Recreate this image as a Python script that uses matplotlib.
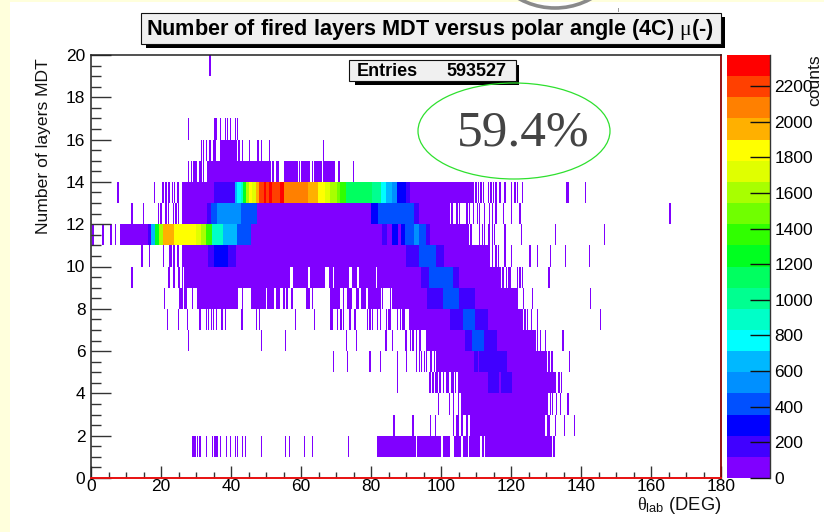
import numpy as np
import matplotlib
matplotlib.use('Agg')
import matplotlib.pyplot as plt
from matplotlib.colors import ListedColormap, BoundaryNorm
from matplotlib.patches import Rectangle, Ellipse, Circle
from matplotlib.ticker import MultipleLocator

plt.rcParams['font.family'] = ['Liberation Sans', 'DejaVu Sans']
plt.rcParams['mathtext.fontset'] = 'custom'
plt.rcParams['mathtext.rm'] = 'Liberation Sans'
plt.rcParams['mathtext.it'] = 'Liberation Serif'
plt.rcParams['mathtext.bf'] = 'Liberation Sans:bold'

# palette bands of the z axis, bottom to top
band_colors = ['#8000ff', '#4000ff', '#0000ff', '#0050ff', '#0090ff', '#00b8ff', '#00ffff',
               '#00ffc8', '#00ff90', '#00ff60', '#00ff20', '#30ff00', '#70ff00', '#a8ff00',
               '#e0ff00', '#ffff00', '#ffb000', '#ff8000', '#ff4000', '#ff0000']
z_max = 2374
z_ticks = [0, 200, 400, 600, 800, 1000, 1200, 1400, 1600, 1800, 2000, 2200]

# solid runs per row: (theta from, theta to, counts)
row01_runs = [(81.4, 88.6, 60), (88.9, 92.6, 60), (93.0, 99.8, 60), (100.2, 102.4, 60), (103.6, 105.6, 60),
              (106.0, 107.6, 60), (108.0, 111.0, 60), (111.4, 112.0, 60), (112.4, 131.1, 60)]
row02_runs = [(108.3, 129.4, 60)]
row03_runs = [(105.6, 129.7, 60)]
row04_runs = [(104.7, 113.2, 60), (113.2, 116.4, 200), (116.4, 116.9, 100), (116.9, 120.2, 200), (120.2, 132.3, 60)]
row05_runs = [(98.6, 109.4, 60), (109.4, 110.2, 200), (110.2, 110.7, 60), (110.7, 118.8, 200), (118.8, 129.7, 60)]
row06_runs = [(95.7, 106.9, 60), (106.9, 108.5, 200), (108.5, 110.7, 420), (110.7, 112.0, 380),
              (112.0, 115.9, 200), (115.9, 126.4, 60)]
row07_runs = [(90.7, 102.6, 60), (102.6, 105.9, 200), (105.9, 109.7, 400), (109.7, 113.2, 200),
              (113.2, 122.6, 60)]
row08_runs = [(25.2, 26.2, 60), (26.6, 27.3, 60), (30.2, 41.6, 60), (45.6, 50.0, 60), (50.4, 51.9, 60),
              (52.6, 54.0, 60), (54.5, 55.4, 60), (61.4, 62.6, 60), (68.3, 71.0, 60), (73.0, 74.5, 60),
              (75.4, 76.4, 60), (76.9, 78.3, 60), (79.2, 82.6, 60), (85.9, 88.8, 60), (88.8, 96.0, 60),
              (96.0, 100.2, 200), (100.2, 105.0, 400), (105.0, 106.9, 200), (106.9, 109.7, 200),
              (109.7, 121.1, 60)]
row09_runs = [(26.6, 56.7, 60), (57.3, 61.6, 60), (62.6, 66.9, 60), (67.8, 68.8, 60), (69.3, 73.5, 60),
              (74.5, 75.9, 60), (76.4, 81.1, 60), (81.6, 94.0, 60), (94.0, 96.4, 200), (96.4, 103.0, 400),
              (103.0, 105.0, 200), (105.0, 116.4, 60)]
row10_runs = [(25.7, 33.2, 60), (33.2, 35.0, 200), (35.0, 39.2, 300), (39.2, 41.1, 200), (41.1, 89.7, 60),
              (89.7, 93.5, 200), (93.5, 98.3, 400), (98.3, 100.7, 200), (100.7, 113.5, 60)]
row11_runs = [(8.1, 15.9, 60), (15.9, 17.0, 200), (17.0, 18.3, 650), (18.3, 19.2, 1300), (19.2, 20.2, 1600),
              (20.2, 23.5, 1950), (23.5, 26.5, 1840), (26.5, 27.4, 1800), (27.4, 29.7, 1830), (29.7, 31.0, 1700),
              (31.0, 32.5, 1600), (32.5, 34.5, 1350), (34.5, 37.8, 850), (37.8, 41.6, 650), (41.6, 45.4, 400),
              (45.4, 83.0, 60), (83.0, 84.5, 200), (84.5, 86.0, 60), (86.0, 87.5, 300), (87.5, 88.5, 60),
              (88.5, 89.5, 250), (89.5, 92.0, 400), (92.0, 93.6, 520), (93.6, 95.4, 400), (95.4, 96.8, 200),
              (96.8, 107.3, 60)]
row12_runs = [(25.7, 33.0, 60), (33.0, 34.0, 200), (34.0, 36.0, 450), (36.0, 42.5, 560), (42.5, 47.3, 380),
              (47.3, 79.7, 60), (79.7, 82.0, 250), (82.0, 92.0, 420), (92.0, 93.5, 200), (93.5, 102.6, 60)]
row13_runs = [(25.7, 35.0, 60), (35.0, 40.7, 200), (40.7, 41.6, 650), (41.6, 42.6, 770), (42.6, 43.5, 900),
              (43.5, 44.0, 1250), (44.0, 45.0, 1600), (45.0, 45.9, 1850), (45.9, 46.9, 1750), (46.9, 47.8, 2000),
              (47.8, 49.2, 2200), (49.2, 50.0, 2300), (50.0, 50.6, 2200), (50.6, 51.6, 2300), (51.6, 54.0, 2200),
              (54.0, 54.8, 2300), (54.8, 57.8, 2100), (57.8, 61.6, 2050), (61.6, 64.5, 1950), (64.5, 66.9, 1850),
              (66.9, 68.3, 1720), (68.3, 70.2, 1600), (70.2, 71.0, 1480), (71.0, 72.6, 1350), (72.6, 75.0, 1150),
              (75.0, 80.0, 1100), (80.0, 82.6, 1000), (82.6, 84.0, 780), (84.0, 86.0, 650), (86.0, 87.3, 550),
              (87.3, 90.0, 300), (90.0, 91.0, 200), (91.0, 108.8, 60)]
row14_runs = [(32.9, 51.3, 60), (55.0, 59.0, 60), (60.0, 62.5, 60), (63.5, 65.5, 60), (66.0, 69.6, 60)]
row15_runs = [(36.4, 41.6, 60)]
row16_runs = []
row19_runs = []

# single filled bins per row, theta values
row01_ticks = [28.9, 29.3, 29.7, 30.5, 31.3, 33.1, 34.8, 35.4, 35.9, 36.3, 37.0, 38.6, 39.6, 41.1, 41.9, 43.2,
               44.0, 48.6, 55.7, 56.7, 61.0, 63.0, 73.6, 131.5, 132.3]
row02_ticks = [86.6, 91.9, 96.9, 98.3, 103.5, 104.5, 105.0, 106.0, 107.6, 130.4, 131.0, 132.6, 135.1, 138.0]
row03_ticks = [99.1, 102.3, 103.5, 105.0, 130.0, 130.6, 131.2, 132.0, 133.0, 134.2, 136.4]
row04_ticks = [87.6, 96.5, 97.0, 97.6, 98.3, 98.8, 99.5, 100.0, 100.8, 101.6, 102.0, 103.0, 103.4, 104.3, 132.8, 133.8,
               134.4]
row05_ticks = [69.4, 73.1, 79.7, 82.6, 87.8, 90.2, 93.2, 93.8, 94.6, 95.3, 96.0, 97.0, 97.5, 98.2, 130.1, 130.8,
               131.6, 132.0, 136.7]
row06_ticks = [27.9, 48.6, 55.7, 72.9, 75.9, 83.9, 84.4, 86.2, 89.7, 90.2, 91.2, 92.0, 93.0, 93.6, 94.2, 127.0,
               127.6, 128.2, 129.6, 134.7]
row07_ticks = [21.6, 25.1, 27.6, 31.1, 33.0, 33.5, 34.2, 35.0, 35.7, 37.2, 37.6, 38.4, 42.9, 43.5, 47.2, 48.2,
               58.6, 63.8, 68.5, 68.9, 70.3, 71.3, 72.0, 74.0, 75.4, 79.0, 79.6, 80.6, 82.0, 82.6, 84.5, 85.0, 85.6,
               87.5, 88.4, 89.0, 89.4, 122.9, 123.4, 124.0, 124.8, 125.9, 127.6, 145.6]
row08_ticks = [20.9, 29.0, 42.0, 43.5, 56.0, 57.3, 63.3, 72.0, 83.5, 85.4, 121.4, 122.0, 123.5, 126.2, 142.6]
row09_ticks = [11.6, 22.0, 22.4, 23.6, 24.0, 25.0, 25.5, 26.0, 116.9, 117.4, 118.0, 118.6, 119.3, 119.7, 121.9,
               122.6, 123.4, 130.7]
row10_ticks = [14.7, 16.6, 20.7, 22.4, 22.9, 23.4, 24.0, 24.6, 25.2, 114.0, 114.8, 115.9, 116.3, 118.3, 120.0,
               125.4, 127.6, 131.1, 135.7, 142.4]
row11_ticks = [0.7, 3.5, 5.4, 5.9, 6.9, 107.8, 108.4, 111.2, 111.9, 112.6, 113.4, 113.9, 114.6, 115.4, 118.1, 122.9,
               132.6, 146.6]
row12_ticks = [11.6, 14.8, 19.4, 19.8, 21.5, 22.0, 23.4, 24.2, 25.2, 103.0, 104.5, 105.4, 107.3, 108.3, 109.2,
               110.2, 111.1, 112.5, 114.0, 114.5, 115.9, 117.8, 120.2, 122.6, 165.4]
row13_ticks = [7.9, 18.2, 20.2, 20.8, 21.4, 22.0, 22.5, 23.2, 24.0, 24.6, 25.2, 109.2, 110.0, 110.7, 111.3, 112.1,
               113.5, 114.2, 115.0, 115.9, 116.9, 118.1, 120.2, 121.3, 121.9, 123.3, 135.9, 136.4, 141.3]
row14_ticks = [27.8, 28.6, 29.2, 29.7, 30.2, 31.0, 31.6, 32.3, 52.0, 53.0, 53.6, 59.5, 63.0, 65.8, 70.7, 71.1, 75.1]
row15_ticks = [31.6, 32.1, 33.1, 34.0, 35.0, 35.5, 42.4, 43.4, 45.0, 47.6, 48.8, 51.1, 66.4]
row16_ticks = [28.0, 35.3, 35.9, 36.9, 38.4, 39.1, 39.7, 41.1, 42.1]
row19_ticks = [34.0]

tick_counts = 40
n_bins = 500
x_edges = np.linspace(0, 180, n_bins + 1)
y_edges = np.arange(0, 21)
counts = np.zeros((20, n_bins))

all_rows = [(1, row01_runs, row01_ticks), (2, row02_runs, row02_ticks), (3, row03_runs, row03_ticks),
            (4, row04_runs, row04_ticks), (5, row05_runs, row05_ticks), (6, row06_runs, row06_ticks),
            (7, row07_runs, row07_ticks), (8, row08_runs, row08_ticks), (9, row09_runs, row09_ticks),
            (10, row10_runs, row10_ticks), (11, row11_runs, row11_ticks), (12, row12_runs, row12_ticks),
            (13, row13_runs, row13_ticks), (14, row14_runs, row14_ticks), (15, row15_runs, row15_ticks),
            (16, row16_runs, row16_ticks), (19, row19_runs, row19_ticks)]
for row, runs, ticks in all_rows:
    for t0, t1, c in runs:
        i0 = np.searchsorted(x_edges, t0)
        i1 = np.searchsorted(x_edges, t1)
        counts[row, i0:i1] = c
    for t in ticks:
        counts[row, int(t / 180 * n_bins)] = tick_counts

fig = plt.figure(figsize=(8.24, 5.32), dpi=100, facecolor='#ffffdc')
W, H = 824.0, 532.0


def px_axes(x0, y0, x1, y1, **kw):
    return fig.add_axes([x0 / W, 1 - y1 / H, (x1 - x0) / W, (y1 - y0) / H], **kw)


# white page on the yellow slide
bg = fig.add_axes([0, 0, 1, 1], zorder=-1)
bg.set_xlim(0, W)
bg.set_ylim(H, 0)
bg.axis('off')
bg.add_patch(Rectangle((10, 2), W - 10, H, fc='white', ec='none'))

cmap = ListedColormap(band_colors)
cmap.set_bad('white')
levels = np.linspace(0, z_max, len(band_colors) + 1)
norm = BoundaryNorm(levels, cmap.N)

ax = px_axes(91, 55, 721, 478)
mesh = ax.pcolormesh(x_edges, y_edges, np.ma.masked_equal(counts, 0), cmap=cmap, norm=norm,
                     shading='flat', antialiased=False)
ax.set_xlim(0, 180)
ax.set_ylim(0, 20)
ax.xaxis.set_major_locator(MultipleLocator(20))
ax.xaxis.set_minor_locator(MultipleLocator(5))
ax.yaxis.set_major_locator(MultipleLocator(2))
ax.yaxis.set_minor_locator(MultipleLocator(0.5))
ax.tick_params(axis='x', which='major', direction='in', length=8.6, width=1.0, labelsize=12.5, pad=1, color='#333333')
ax.tick_params(axis='x', which='minor', direction='in', length=4.3, width=1.0, color='#333333')
ax.tick_params(axis='y', which='major', direction='in', length=14.4, width=1.0, labelsize=12.5, pad=4, color='#333333')
ax.tick_params(axis='y', which='minor', direction='in', length=7.2, width=1.0, color='#333333')
for s in ['top', 'left']:
    ax.spines[s].set_color('#222222')
    ax.spines[s].set_linewidth(1.1)
ax.spines['right'].set_color('#8b0000')
ax.spines['right'].set_linewidth(1.3)
ax.spines['bottom'].set_color('#e81010')
ax.spines['bottom'].set_linewidth(1.4)

cax = px_axes(727, 55, 770, 478)
cb = fig.colorbar(mesh, cax=cax, ticks=z_ticks, spacing='proportional', drawedges=False)
cb.minorticks_off()
cax.tick_params(axis='y', direction='in', length=14.4, width=1.0, labelsize=12.5, pad=3, color='#111111')
cb.outline.set_visible(False)
cax.plot([1, 1], [0, 1], transform=cax.transAxes, color='#333333', lw=1.0, clip_on=False)

# overlay in pixel coordinates: boxes, labels, annotation
top = fig.add_axes([0, 0, 1, 1], zorder=5)
top.set_xlim(0, W)
top.set_ylim(H, 0)
top.axis('off')
top.patch.set_alpha(0)

top.add_patch(Rectangle((146, 17), 579, 30.5, fc='black', ec='none'))
top.add_patch(Rectangle((141.5, 12.7), 580, 31.3, fc='#f0f0f0', ec='#111111', lw=0.8))
top.text(146, 29.5, r'Number of fired layers MDT versus polar angle (4C) $\mu$(-)', fontsize=15.6, fontweight='bold',
         ha='left', va='center', color='black')

top.add_patch(Rectangle((355, 65), 164.5, 19.5, fc='black', ec='none'))
top.add_patch(Rectangle((349.5, 60), 166.5, 21, fc='#f0f0f0', ec='#111111', lw=0.8))
top.text(357, 71, 'Entries', fontsize=13, fontweight='bold', ha='left', va='center', color='black')
top.text(506, 71, '593527', fontsize=13, fontweight='bold', ha='right', va='center', color='black')

top.add_patch(Ellipse((514, 131), 192, 96, fc='none', ec='#2ee02e', lw=0.9))
top.text(523, 133, '59.4%', fontsize=37, family='Liberation Serif', ha='center', va='center', color='#444444')

top.add_patch(Circle((555, -66), 74, fc='none', ec='#8a8a8a', lw=2.6, clip_on=True))
top.plot([618, 618], [8, 11], color='#999999', lw=0.7)

top.text(44, 146, 'Number of layers MDT', fontsize=12.6, rotation=90, ha='center', va='center', color='#111111')
top.text(679.5, 505, r'$\theta_{\mathrm{lab}}$ (DEG)', fontsize=13.2, ha='center', va='center', color='#111111')
top.text(815, 80, 'counts', fontsize=12.6, rotation=90, ha='center', va='center', color='#111111')

fig.savefig('out.png', dpi=100, facecolor=fig.get_facecolor())
